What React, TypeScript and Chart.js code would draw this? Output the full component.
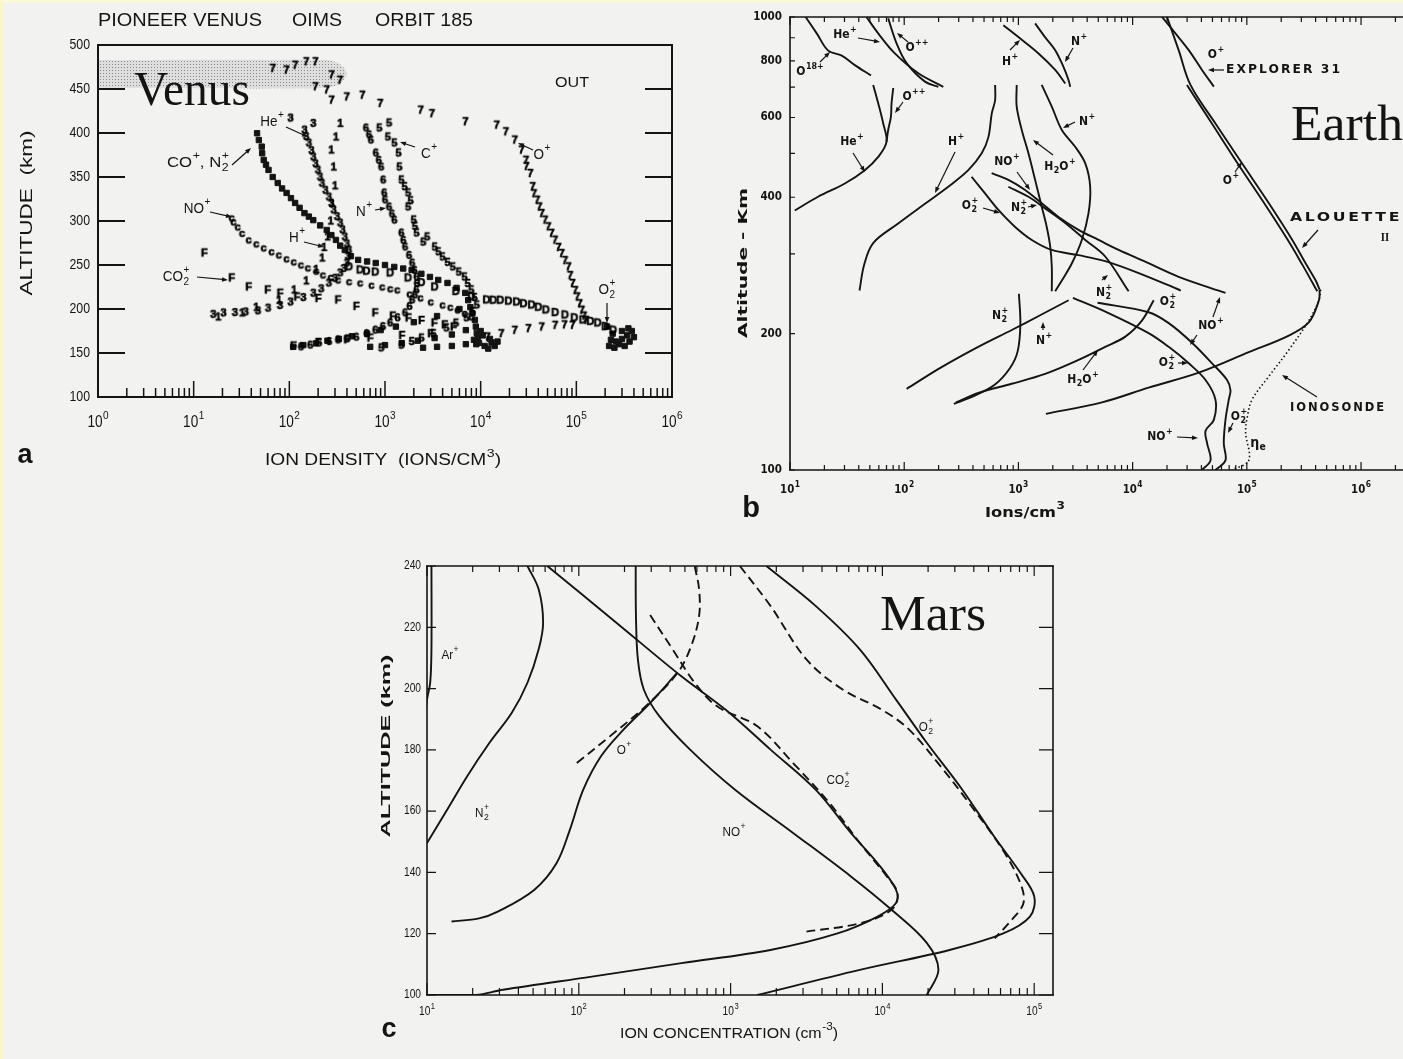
import React, { useEffect, useRef } from 'react';
import { Chart, registerables } from 'chart.js';

Chart.register(...registerables);

type Pt = [number, number];

const INK = '#141414';
const SANS = '"Liberation Sans", Arial, sans-serif';
const BSANS = '"DejaVu Sans", "Liberation Sans", sans-serif';
const SERIF = '"Liberation Serif", "Times New Roman", serif';

// ================= Panel a : Venus =================
const venusXTicks = [1, 10, 100, 1000, 10000, 100000, 1000000];
const venusXTickLabels = ['10^0', '10^1', '10^2', '10^3', '10^4', '10^5', '10^6'];
const venusYTicks = [100, 150, 200, 250, 300, 350, 400, 450, 500];
const venusYTickLabels = ['100', '150', '200', '250', '300', '350', '400', '450', '500'];

const venusShadeBand: Pt[] = [[1, 483], [240, 483], [320, 480], [385, 472], [395, 465], [330, 455], [240, 451], [1, 451]];

const venusOPlus: Pt[] = [
  [67, 473.5], [93, 471.6], [115, 477], [150, 481], [187, 481], [276, 466], [338, 460], [187, 452.6], [245, 449],
  [276, 437.4], [398, 441], [579, 443], [890, 433.6], [2360, 426], [3090, 422], [6920, 412.8], [14700, 409],
  [18300, 401.4], [22700, 392], [26700, 380.6], [29700, 369], [30000, 362], [33000, 354], [34900, 339], [36000, 331],
  [38900, 323.7], [41000, 316], [43400, 308.5], [47000, 301], [50800, 293.4], [55000, 286], [59700, 278.2],
  [65000, 270], [70100, 263], [76000, 255], [82500, 247.9], [86000, 238], [91000, 229], [97000, 221], [102000, 213.8],
  [108000, 206], [114000, 198.6], [120000, 192], [126000, 187.2], [91000, 181.5], [75000, 182], [60000, 181.5],
  [43400, 179.6], [31500, 177.7], [22700, 175.8], [16400, 172], [11800, 168.2],
];
const venusCPlus: Pt[] = [
  [1100, 411.4], [870, 405.7], [1070, 395.5], [1250, 388.7], [1380, 377.3], [1410, 361.4], [1480, 346.6], [1600, 339],
  [1740, 331.9], [1850, 323], [1740, 316], [1990, 301.2], [2050, 294], [2130, 286.4], [2500, 276], [2750, 281.9],
  [3300, 270.5], [3600, 265], [3980, 259.2], [4500, 253], [5100, 247.8], [5900, 242], [6760, 236.4], [7300, 229],
  [7950, 221.7], [8600, 213], [9100, 204.6], [8200, 197], [7080, 190], [5500, 184], [4370, 178.5], [3200, 172],
  [2400, 167], [1900, 163], [1480, 159], [910, 155.8],
];
const venusNPlus: Pt[] = [
  [632, 405.7], [680, 398], [710, 392], [800, 377.3], [860, 369], [910, 361.4], [955, 346.6], [980, 331.9], [1000, 324],
  [1100, 316], [1180, 308], [1250, 301], [1480, 286.4], [1550, 278], [1620, 270.5], [1780, 261], [1920, 252.3],
  [2030, 244], [2130, 236.4], [2150, 229], [2130, 221.7], [2050, 216], [1920, 210.3], [1800, 203], [1620, 195.6],
  [1350, 190], [1130, 184.2], [950, 180], [790, 176], [640, 172], [500, 168], [400, 166], [322, 164.9], [260, 163],
  [204, 161.5], [165, 159], [132, 157],
];
const venusHePlus: Pt[] = [
  [103, 417], [178, 411], [144, 403.4], [150, 396], [160, 388.7], [170, 380], [178, 372.8], [188, 365], [199, 358],
  [209, 350], [219, 343], [238, 335], [259, 327.3], [275, 320], [290, 312.6], [315, 305], [340, 297.8], [360, 290],
  [380, 281.9], [400, 274], [420, 267], [410, 260], [400, 252.3], [370, 246], [340, 241], [300, 235], [259, 229.6],
  [215, 223], [178, 218], [140, 213], [103, 208], [80, 204], [60, 201], [47, 198], [35, 196.7], [27, 196], [20.5, 195.6],
  [16, 194],
];
const venusHPlus: Pt[] = [
  [340, 411], [307, 395.5], [274, 380.7], [290, 361.4], [300, 340], [280, 320], [270, 300], [250, 282], [230, 270],
  [220, 258], [190, 245], [150, 232], [112, 221.7], [78, 210], [45, 202], [32, 195.6], [18, 191],
];
const venusNOPlus: Pt[] = [
  [24.9, 303.5], [26, 299], [28.8, 293.2], [32, 286], [37.5, 278.5], [45, 274], [53.8, 269.4], [65, 265], [77.4, 261.4],
  [93, 257], [111, 253.5], [132, 250], [156, 246.7], [190, 243], [224, 238.7], [270, 236], [322, 233], [420, 231],
  [548, 229.6], [720, 227], [933, 225], [1130, 223], [1340, 221.7], [1800, 217], [2340, 212.6], [3000, 208],
  [3980, 204.6], [4800, 202], [5710, 199], [6800, 195], [7950, 191],
];
const venusCO2Plus: Pt[] = [
  [12.9, 263.7], [24.9, 235.3], [37.5, 225.1], [59.3, 221.7], [80, 218], [120, 213.7], [200, 212], [322, 210.3],
  [500, 203], [787, 195.6], [1200, 192], [1750, 189.9], [2400, 187], [3270, 184.2], [4200, 182], [5190, 179.6],
  [3000, 172], [1500, 170], [700, 167], [400, 165], [200, 162], [110, 158],
];
const venusO2PlusD: Pt[] = [
  [420, 248], [548, 244.4], [640, 243], [790, 242], [1130, 241], [1740, 235.3], [2400, 230], [3300, 225], [5500, 220],
  [8000, 214], [11500, 210.3], [13500, 210], [16000, 210], [19500, 209], [23700, 208], [28000, 206], [34000, 204.6],
  [40000, 202], [48000, 199], [60000, 196], [76000, 193.3], [95000, 190], [117000, 187.6], [140000, 186],
  [167000, 184.2], [200000, 180], [242000, 176],
];
const venusCOPlusBlob: Pt[] = [
  [46, 399.7], [48, 392], [51.5, 384.5], [52, 377], [54, 369.4], [57, 364], [60.6, 358], [67, 350], [75.6, 343.2],
  [84, 337], [93.6, 331.9], [104, 326], [115, 320.5], [128, 315], [144, 309], [160, 305], [178, 301], [210, 295],
  [246, 289.8], [275, 284], [307, 278.5], [340, 272], [380, 267], [440, 260], [524, 255.8], [650, 254], [800, 252.3],
  [1000, 250], [1250, 247.8], [1550, 246], [1900, 244.4], [2400, 240], [2950, 236.4], [3600, 233], [4500, 229.6],
  [5600, 224], [6900, 218.3], [7400, 210], [7800, 202], [8200, 195], [8700, 187.6], [8900, 180], [9100, 172.8],
  [9300, 167], [9600, 161.5],
];
const venusLowChainA: Pt[] = [
  [110, 157], [140, 159], [190, 161], [250, 164], [330, 166], [450, 169], [650, 172], [900, 176], [1300, 180],
  [2000, 185], [3500, 192], [6000, 200],
];
const venusLowChainB: Pt[] = [[700, 157], [1000, 159], [1500, 161], [2200, 164], [3300, 167], [5000, 171], [7000, 176]];
const venusLowChainC: Pt[] = [[2500, 156], [3500, 157], [5000, 158], [7000, 160]];
const venusPeakBlob: Pt[] = [
  [9000, 160], [11000, 158], [13000, 162], [10500, 170], [12500, 166], [14000, 158], [10000, 175], [8500, 165],
  [12000, 155], [15000, 163],
];
const venusO2Blob: Pt[] = [
  [220000, 158], [250000, 156], [280000, 160], [320000, 158], [360000, 163], [400000, 168], [380000, 175],
  [340000, 170], [300000, 166], [260000, 163], [230000, 165], [240000, 172], [210000, 180], [350000, 178], [300000, 175],
];

// ================= Panel b : Earth =================
const earthXTicks = [10, 100, 1000, 10000, 100000, 1000000];
const earthXTickLabels = ['10^1', '10^2', '10^3', '10^4', '10^5', '10^6'];
const earthYTicks = [100, 200, 400, 600, 800, 1000];
const earthYTickLabels = ['100', '200', '400', '600', '800', '1000'];
const earthYAllTicks = [100, 200, 300, 400, 500, 600, 700, 800, 900, 1000];

const earthO18Plus: Pt[] = [[13.7, 1000], [17.2, 919], [21.6, 843], [28.4, 822], [37.2, 782], [51.2, 743]];
const earthHePlusUpper: Pt[] = [[46.7, 1000], [59.2, 920], [82.8, 831], [133, 751], [220, 701]];
const earthOppUpper: Pt[] = [[72.4, 993], [85.7, 875], [105, 791], [152, 720], [199, 701]];
const earthHePlusLower: Pt[] = [[53.5, 708], [59.2, 645], [65.5, 582], [70, 530], [59.2, 491], [45.2, 459], [30.2, 429], [17.6, 401], [11, 374]];
const earthOppLower: Pt[] = [[80.2, 697], [77.5, 646], [76.5, 603], [72.4, 563], [70, 530]];
const earthHPlusUpper: Pt[] = [[738, 959], [1000, 903], [1500, 831], [2100, 764], [2570, 713]];
const earthNPlusUpper: Pt[] = [[1400, 968], [1710, 903], [2100, 845], [2480, 776], [2750, 725], [2840, 701]];
const earthHPlusLower: Pt[] = [[625, 708], [625, 655], [584, 612], [546, 543], [477, 500], [364, 459], [243, 422], [152, 387], [88.5, 350], [53.5, 317], [44.6, 284], [40.6, 249]];
const earthH2OPlusUpper: Pt[] = [[966, 708], [966, 634], [1070, 563], [1224, 500], [1400, 437], [1600, 381], [1770, 344], [1900, 311], [1960, 281], [1960, 248]];
const earthNPlusMid: Pt[] = [[1600, 708], [1960, 634], [2400, 563], [3140, 517], [3850, 475], [4250, 422], [4110, 369], [3590, 322], [2940, 286], [2400, 262], [2100, 248]];
const earthNOPlusUpper: Pt[] = [[583, 452], [817, 437], [1145, 415], [1600, 388], [2244, 362], [3360, 339], [5030, 322], [7540, 306], [13000, 288], [25300, 267], [65000, 246]];
const earthN2PlusUpper: Pt[] = [[817, 422], [1224, 401], [1714, 378], [2570, 351], [3850, 322], [5750, 296], [9230, 248]];
const earthO2PlusUpper: Pt[] = [[389, 444], [510, 408], [668, 375], [936, 344], [1310, 322], [1960, 306], [3360, 298], [5750, 289], [11300, 272], [26400, 249]];
const earthN2PlusLower: Pt[] = [[1010, 245], [1040, 210], [986, 183], [845, 168], [615, 154], [391, 145], [272, 140]];
const earthNPlusLower: Pt[] = [[2750, 237], [1520, 219], [883, 204], [428, 186], [207, 168], [105, 151]];
const earthH2OPlusLower: Pt[] = [[15300, 237], [12100, 214], [8630, 197], [5750, 187], [3360, 175], [1714, 163], [873, 155], [445, 148], [284, 141]];
const earthNOPlusLower: Pt[] = [[3000, 240], [6150, 222], [13800, 200.5], [20700, 187], [31000, 172], [43500, 158], [53100, 143], [51400, 129], [43500, 122], [44900, 114.5], [48100, 105], [40500, 100]];
const earthO2PlusLower: Pt[] = [[4930, 234], [13800, 223], [20700, 211], [33100, 191], [49600, 172], [67100, 158], [71900, 150], [69500, 143], [65000, 129], [62800, 114.5], [65000, 105], [53100, 100]];
const earthOPlusModel: Pt[] = [[1740, 133], [5400, 141], [13800, 152], [37900, 164], [104000, 182], [233000, 198], [350000, 212], [428000, 237], [434000, 250]];
const earthAlouette: Pt[] = [[20000, 1000], [25300, 845], [32100, 708], [53100, 582], [91000, 475], [156000, 388], [250000, 322], [327000, 286], [401000, 262], [434000, 250]];
const earthOPlusPair: Pt[] = [[29900, 708], [49600, 581], [84000, 473], [144000, 386], [230000, 321], [306000, 284], [379000, 258], [414000, 248]];
const earthExplorerOPlus: Pt[] = [[18100, 1000], [23700, 920], [31000, 845], [40500, 764], [51400, 702]];
const earthIonosonde: Pt[] = [[443000, 250], [428000, 237], [350000, 214], [233000, 184], [156000, 161], [111000, 143], [101000, 131], [97500, 121], [104000, 105], [74000, 100]];

// ================= Panel c : Mars =================
const marsXTicks = [10, 100, 1000, 10000, 100000];
const marsXTickLabels = ['10^1', '10^2', '10^3', '10^4', '10^5'];
const marsYTicks = [100, 120, 140, 160, 180, 200, 220, 240];
const marsYTickLabels = ['100', '120', '140', '160', '180', '200', '220', '240'];

const marsArPlus: Pt[] = [[10.7, 240], [10.7, 213], [10.5, 202], [10, 196.4], [9.7, 189]];
const marsN2Plus: Pt[] = [[45.9, 240], [54.4, 232.4], [58.2, 221.5], [54.4, 212.8], [45.9, 201.9], [36.2, 192.1], [25.8, 182.3], [18.4, 171.4], [13.6, 160.5], [10, 149.6]];
const marsOPlus: Pt[] = [[14.5, 124], [22, 125], [29.5, 127.3], [50.8, 134.3], [71.3, 143], [87.3, 153.9], [107, 167], [140, 177.9], [197, 186.6], [295, 195.3], [444, 205.1]];
const marsOPlusDashed: Pt[] = [[97, 175.7], [160, 184.4], [275, 194.2], [447, 205.1], [550, 213.9], [620, 223.7], [620, 232.4], [580, 240]];
const marsNOPlus: Pt[] = [[237, 240], [238, 223.7], [245, 209.5], [268, 199.7], [339, 191], [543, 180], [1070, 167], [2580, 152.9], [6200, 138.7], [11500, 127.8], [19600, 117], [23400, 108.2], [19600, 100]];
const marsCO2Plus: Pt[] = [[62, 240], [172, 222], [474, 204], [933, 193], [1840, 180], [3630, 167], [6200, 152.9], [9300, 143], [12300, 134.3], [12300, 130], [9300, 125.6], [5000, 120], [1830, 114.7], [475, 110.4], [122, 106], [31.6, 101.7], [21, 100], [10, 100]];
const marsCO2PlusDashed: Pt[] = [[295, 224], [415, 212.8], [580, 201.9], [815, 194.2], [1500, 187.7], [2580, 175.7], [4470, 162.7], [7100, 149.6], [10700, 138.7], [12600, 133.2], [11500, 127.8], [7100, 123.4], [3160, 120.7]];
const marsO2Plus: Pt[] = [[1720, 240], [3630, 227], [7100, 212.8], [12300, 196.4], [19600, 182.3], [33600, 167], [54300, 151.8], [81300, 139.8], [100000, 132.2], [93700, 125.6], [62000, 120], [27700, 114.7], [7100, 108.2], [1500, 100]];
const marsO2PlusDashed: Pt[] = [[1150, 240], [1830, 227], [3160, 209.5], [5470, 199.7], [10000, 193], [15000, 186.6], [24200, 174.6], [38600, 161.6], [62000, 147.4], [81000, 136.5], [85000, 130], [71000, 124.5], [55000, 118.5]];

// ================= helpers =================
type TextItem = {
  t: string; x: number; y: number; s: number; fam?: string; bold?: boolean;
  align?: 'left' | 'center' | 'right'; rot?: number; w?: number; sx?: number; ls?: number;
};
type Arrow = [number, number, number, number];
type TickSet = { axis: 'x' | 'y'; side: 'top' | 'bottom' | 'left' | 'right'; values: number[]; len: number; lw?: number };
type LabelSet = { axis: 'x' | 'y'; values: number[]; labels: string[]; off: number; s: number; fam?: string; bold?: boolean; sx?: number };
type DecoCfg = {
  ox: number; oy: number; frameLw: number; sides: string[];
  ticks: TickSet[]; labels: LabelSet[]; texts: TextItem[]; arrows: Arrow[];
};

function parseRich(text: string) {
  const segs: { t: string; k: string }[] = [];
  let i = 0;
  while (i < text.length) {
    const c = text[i];
    if (c === '^' || c === '_') {
      let content = '';
      if (text[i + 1] === '{') {
        const j = text.indexOf('}', i + 2);
        content = text.slice(i + 2, j);
        i = j + 1;
      } else {
        content = text[i + 1];
        i += 2;
      }
      segs.push({ t: content, k: c === '^' ? 'sup' : 'sub' });
    } else {
      let j = i;
      while (j < text.length && text[j] !== '^' && text[j] !== '_') j++;
      segs.push({ t: text.slice(i, j), k: 'n' });
      i = j;
    }
  }
  return segs;
}

function drawRich(ctx: CanvasRenderingContext2D, it: TextItem, x: number, y: number) {
  const fam = it.fam || SANS;
  const font = (sz: number) => `${it.bold ? 'bold ' : ''}${sz}px ${fam}`;
  const segs = parseRich(it.t);
  (ctx as any).letterSpacing = (it.ls || 0) + 'px';
  let width = 0;
  const laid: any[] = [];
  for (const sg of segs) {
    if (sg.k === 'n') {
      ctx.font = font(it.s);
      const ww = ctx.measureText(sg.t).width;
      laid.push({ t: sg.t, k: 'n', dx: width, dy: 0, size: it.s });
      width += ww;
    } else {
      const ss = it.s * 0.74;
      ctx.font = font(ss);
      const ww = ctx.measureText(sg.t).width;
      const dy = sg.k === 'sup' ? -it.s * 0.46 : it.s * 0.32;
      const prev = laid[laid.length - 1];
      if (prev && prev.k !== 'n' && prev.k !== sg.k && !prev.stacked) {
        laid.push({ t: sg.t, k: sg.k, dx: prev.dx, dy, size: ss, stacked: true });
        prev.stacked = true;
        width = Math.max(width, prev.dx + ww);
      } else {
        laid.push({ t: sg.t, k: sg.k, dx: width + 0.5, dy, size: ss });
        width += ww + 0.5;
      }
    }
  }
  const sx = it.w ? it.w / width : it.sx || 1;
  ctx.save();
  ctx.translate(x, y);
  if (it.rot) ctx.rotate(it.rot);
  ctx.scale(sx, 1);
  const align = it.align || 'center';
  const start = align === 'center' ? -width / 2 : align === 'right' ? -width : 0;
  ctx.textBaseline = 'middle';
  ctx.textAlign = 'left';
  ctx.fillStyle = INK;
  for (const l of laid) {
    ctx.font = font(l.size);
    ctx.fillText(l.t, start + l.dx, l.dy);
  }
  ctx.restore();
  (ctx as any).letterSpacing = '0px';
}

function makeDeco(cfg: DecoCfg) {
  return {
    id: 'deco',
    afterDraw(chart: any) {
      const ctx: CanvasRenderingContext2D = chart.ctx;
      const a = chart.chartArea;
      const xs = chart.scales.x;
      const ys = chart.scales.y;
      ctx.save();
      ctx.strokeStyle = INK;
      ctx.fillStyle = INK;
      ctx.lineWidth = cfg.frameLw;
      ctx.beginPath();
      if (cfg.sides.includes('top')) { ctx.moveTo(a.left - 1, a.top); ctx.lineTo(a.right + 1, a.top); }
      if (cfg.sides.includes('bottom')) { ctx.moveTo(a.left - 1, a.bottom); ctx.lineTo(a.right + 1, a.bottom); }
      if (cfg.sides.includes('left')) { ctx.moveTo(a.left, a.top); ctx.lineTo(a.left, a.bottom); }
      if (cfg.sides.includes('right')) { ctx.moveTo(a.right, a.top); ctx.lineTo(a.right, a.bottom); }
      ctx.stroke();

      for (const ts of cfg.ticks) {
        ctx.lineWidth = ts.lw || 1.2;
        ctx.beginPath();
        for (const v of ts.values) {
          if (ts.axis === 'x') {
            const p = xs.getPixelForValue(v);
            if (p < a.left - 0.5 || p > a.right + 0.5) continue;
            if (ts.side === 'bottom') { ctx.moveTo(p, a.bottom); ctx.lineTo(p, a.bottom - ts.len); }
            else { ctx.moveTo(p, a.top); ctx.lineTo(p, a.top + ts.len); }
          } else {
            const p = ys.getPixelForValue(v);
            if (p < a.top - 0.5 || p > a.bottom + 0.5) continue;
            if (ts.side === 'left') { ctx.moveTo(a.left, p); ctx.lineTo(a.left + ts.len, p); }
            else { ctx.moveTo(a.right, p); ctx.lineTo(a.right - ts.len, p); }
          }
        }
        ctx.stroke();
      }

      for (const ls of cfg.labels) {
        ls.values.forEach((v, i) => {
          if (ls.axis === 'x') {
            drawRich(ctx, { t: ls.labels[i], x: 0, y: 0, s: ls.s, fam: ls.fam, bold: ls.bold, sx: ls.sx, align: 'center' },
              xs.getPixelForValue(v), a.bottom + ls.off);
          } else {
            drawRich(ctx, { t: ls.labels[i], x: 0, y: 0, s: ls.s, fam: ls.fam, bold: ls.bold, sx: ls.sx, align: 'right' },
              a.left - ls.off, ys.getPixelForValue(v));
          }
        });
      }

      for (const it of cfg.texts) drawRich(ctx, it, it.x - cfg.ox, it.y - cfg.oy);

      ctx.lineWidth = 1.2;
      for (const [x1, y1, x2, y2] of cfg.arrows) {
        const X1 = x1 - cfg.ox, Y1 = y1 - cfg.oy, X2 = x2 - cfg.ox, Y2 = y2 - cfg.oy;
        const ang = Math.atan2(Y2 - Y1, X2 - X1);
        ctx.beginPath();
        ctx.moveTo(X1, Y1);
        ctx.lineTo(X2 - 3 * Math.cos(ang), Y2 - 3 * Math.sin(ang));
        ctx.stroke();
        ctx.beginPath();
        ctx.moveTo(X2, Y2);
        ctx.lineTo(X2 - 6 * Math.cos(ang) + 2.3 * Math.sin(ang), Y2 - 6 * Math.sin(ang) - 2.3 * Math.cos(ang));
        ctx.lineTo(X2 - 6 * Math.cos(ang) - 2.3 * Math.sin(ang), Y2 - 6 * Math.sin(ang) + 2.3 * Math.cos(ang));
        ctx.closePath();
        ctx.fill();
      }
      ctx.restore();
    },
  };
}

const xy = (arr: Pt[]) => arr.map(([x, y]) => ({ x, y }));

function logMinor(lo: number, hi: number) {
  const out: number[] = [];
  for (let e = lo; e < hi; e++) for (let m = 2; m <= 9; m++) out.push(m * Math.pow(10, e));
  return out;
}

function glyph(ch: string) {
  const c = document.createElement('canvas');
  c.width = 11;
  c.height = 13;
  const g = c.getContext('2d')!;
  g.fillStyle = '#000';
  g.strokeStyle = '#000';
  g.lineWidth = 0.7;
  g.font = `bold 11px ${SANS}`;
  g.textAlign = 'center';
  g.textBaseline = 'middle';
  g.fillText(ch, 5.5, 7);
  g.strokeText(ch, 5.5, 7);
  return c;
}

function baseOptions(pad: any, x: any, y: any) {
  return {
    animation: false,
    responsive: false,
    devicePixelRatio: 1,
    events: [],
    layout: { padding: pad },
    plugins: { legend: { display: false }, tooltip: { enabled: false } },
    scales: { x: { ...x, display: false }, y: { ...y, display: false } },
  };
}

function curve(arr: Pt[], opts: any = {}) {
  return {
    data: xy(arr), showLine: true, pointRadius: 0, borderColor: INK, borderWidth: 1.9,
    tension: 0.35, fill: false, ...opts,
  };
}

// ---------------- config builders ----------------
function buildVenus(ctx: CanvasRenderingContext2D) {
  const pc = document.createElement('canvas');
  pc.width = 3; pc.height = 3;
  const pg = pc.getContext('2d')!;
  pg.fillStyle = '#dedede'; pg.fillRect(0, 0, 3, 3);
  pg.fillStyle = '#8a8a8a'; pg.fillRect(1, 1, 1, 1);
  const pattern = ctx.createPattern(pc, 'repeat');
  const chars = (arr: Pt[], ch: string) => ({ data: xy(arr), pointStyle: glyph(ch), pointRadius: 3, showLine: false });
  const blob = (arr: Pt[]) => ({ data: xy(arr), pointStyle: 'rect', pointRadius: 3.8, backgroundColor: INK, borderColor: INK, borderWidth: 1, showLine: false });
  const datasets: any[] = [
    chars(venusOPlus, '7'), chars(venusCPlus, '5'), chars(venusNPlus, '6'), chars(venusHePlus, '3'),
    chars(venusHPlus, '1'), chars(venusNOPlus, 'c'), chars(venusCO2Plus, 'F'), chars(venusO2PlusD, 'D'),
    blob(venusCOPlusBlob), blob(venusLowChainA), blob(venusLowChainB), blob(venusLowChainC),
    blob(venusPeakBlob), blob(venusO2Blob),
    { type: 'line', data: xy(venusShadeBand), fill: 'shape', backgroundColor: pattern, borderWidth: 0, pointRadius: 0, tension: 0.2 },
  ];
  const deco: DecoCfg = {
    ox: 0, oy: 0, frameLw: 2, sides: ['top', 'bottom', 'left', 'right'],
    ticks: [
      { axis: 'y', side: 'left', values: venusYTicks, len: 27, lw: 1.8 },
      { axis: 'y', side: 'right', values: venusYTicks, len: 27, lw: 1.8 },
      { axis: 'x', side: 'bottom', values: venusXTicks, len: 16, lw: 1.5 },
      { axis: 'x', side: 'bottom', values: logMinor(0, 6), len: 9, lw: 1.5 },
    ],
    labels: [
      { axis: 'x', values: venusXTicks, labels: venusXTickLabels, off: 26, s: 16, sx: 0.85 },
      { axis: 'y', values: venusYTicks, labels: venusYTickLabels, off: 8, s: 15, sx: 0.82 },
    ],
    texts: [
      { t: 'PIONEER VENUS', x: 98, y: 21, s: 19, w: 164, align: 'left' },
      { t: 'OIMS', x: 292, y: 21, s: 19, w: 50, align: 'left' },
      { t: 'ORBIT 185', x: 375, y: 21, s: 19, w: 98, align: 'left' },
      { t: 'Venus', x: 192, y: 92, s: 48, fam: SERIF, w: 116 },
      { t: 'OUT', x: 572, y: 83, s: 15, w: 34 },
      { t: 'He^+', x: 272, y: 122, s: 15, sx: 0.9 },
      { t: 'CO^+, N_2^+', x: 198, y: 163, s: 15, w: 62 },
      { t: 'NO^+', x: 197, y: 209, s: 15, sx: 0.9 },
      { t: 'H^+', x: 297, y: 238, s: 15, sx: 0.9 },
      { t: 'CO_2^+', x: 176, y: 277, s: 15, sx: 0.9 },
      { t: 'N^+', x: 364, y: 212, s: 15, sx: 0.9 },
      { t: 'C^+', x: 429, y: 154, s: 15, sx: 0.9 },
      { t: 'O^+', x: 542, y: 155, s: 15, sx: 0.9 },
      { t: 'O_2^+', x: 607, y: 290, s: 15, sx: 0.9 },
      { t: 'ALTITUDE  (km)', x: 28, y: 213, s: 16, rot: -Math.PI / 2, w: 165 },
      { t: 'ION DENSITY  (IONS/CM^3)', x: 383, y: 461, s: 16, w: 236 },
      { t: 'a', x: 25, y: 456, s: 27, bold: true },
    ],
    arrows: [
      [286, 127, 308, 137], [232, 165, 251, 148], [210, 212, 232, 217], [304, 242, 324, 247], [197, 277, 228, 280],
      [375, 210, 386, 208], [415, 147, 400, 142], [533, 150, 518, 143], [607, 303, 607, 323],
    ],
  };
  return {
    type: 'scatter',
    data: { datasets },
    options: baseOptions({ left: 98, top: 45, right: 28, bottom: 83 },
      { type: 'logarithmic', min: 1, max: 1000000 }, { type: 'linear', min: 100, max: 500 }),
    plugins: [makeDeco(deco)],
  };
}

function buildEarth() {
  const lines = [
    earthO18Plus, earthHePlusUpper, earthOppUpper, earthHePlusLower, earthOppLower, earthHPlusUpper, earthNPlusUpper,
    earthHPlusLower, earthH2OPlusUpper, earthNPlusMid, earthNOPlusUpper, earthN2PlusUpper, earthO2PlusUpper,
    earthN2PlusLower, earthNPlusLower, earthH2OPlusLower, earthNOPlusLower, earthO2PlusLower, earthOPlusModel,
    earthAlouette, earthOPlusPair, earthExplorerOPlus,
  ];
  const datasets: any[] = lines.map((l) => curve(l, { borderWidth: 1.9 }));
  datasets.push(curve(earthIonosonde, { borderWidth: 1.6, borderDash: [1.5, 2.5] }));
  const B = { fam: BSANS, bold: true, s: 12, sx: 0.9 };
  const deco: DecoCfg = {
    ox: 700, oy: 0, frameLw: 1.6, sides: ['top', 'bottom', 'left'],
    ticks: [
      { axis: 'x', side: 'bottom', values: earthXTicks, len: 8 },
      { axis: 'x', side: 'bottom', values: logMinor(1, 7), len: 5 },
      { axis: 'x', side: 'top', values: earthXTicks, len: 8 },
      { axis: 'x', side: 'top', values: logMinor(1, 7), len: 5 },
      { axis: 'y', side: 'left', values: earthYAllTicks, len: 5 },
    ],
    labels: [
      { axis: 'x', values: earthXTicks, labels: earthXTickLabels, off: 20, s: 12, fam: BSANS, bold: true, sx: 0.85 },
      { axis: 'y', values: earthYTicks, labels: earthYTickLabels, off: 8, s: 11.5, fam: BSANS, bold: true, sx: 0.9 },
    ],
    texts: [
      { t: 'He^+', x: 845, y: 35, ...B },
      { t: 'O^{++}', x: 917, y: 48, ...B },
      { t: 'O^{18+}', x: 810, y: 72, ...B },
      { t: 'O^{++}', x: 914, y: 97, ...B },
      { t: 'He^+', x: 852, y: 142, ...B },
      { t: 'H^+', x: 1010, y: 62, ...B },
      { t: 'N^+', x: 1079, y: 42, ...B },
      { t: 'H^+', x: 956, y: 142, ...B },
      { t: 'N^+', x: 1087, y: 122, ...B },
      { t: 'H_2O^+', x: 1060, y: 167, ...B },
      { t: 'NO^+', x: 1007, y: 162, ...B },
      { t: 'O_2^+', x: 970, y: 206, ...B },
      { t: 'N_2^+', x: 1019, y: 208, ...B },
      { t: 'N_2^+', x: 1104, y: 293, ...B },
      { t: 'N_2^+', x: 1000, y: 316, ...B },
      { t: 'N^+', x: 1044, y: 341, ...B },
      { t: 'O_2^+', x: 1168, y: 302, ...B },
      { t: 'NO^+', x: 1211, y: 326, ...B },
      { t: 'O_2^+', x: 1167, y: 363, ...B },
      { t: 'H_2O^+', x: 1083, y: 380, ...B },
      { t: 'NO^+', x: 1160, y: 437, ...B },
      { t: 'O_2^+', x: 1239, y: 417, ...B },
      { t: 'η_e', x: 1258, y: 443, ...B, s: 14 },
      { t: 'O^+', x: 1216, y: 55, ...B },
      { t: 'EXPLORER 31', x: 1226, y: 70, ...B, align: 'left', w: 116, ls: 2 },
      { t: 'O^+', x: 1231, y: 181, ...B },
      { t: 'ALOUETTE', x: 1290, y: 218, ...B, align: 'left', w: 112, ls: 2 },
      { t: 'II', x: 1385, y: 238, ...B, fam: SERIF },
      { t: 'IONOSONDE', x: 1290, y: 408, ...B, align: 'left', w: 96, ls: 2 },
      { t: 'Earth', x: 1347, y: 127, s: 50, fam: SERIF, w: 112 },
      { t: 'Altitude - Km', x: 744, y: 263, s: 13, fam: BSANS, bold: true, rot: -Math.PI / 2, w: 150 },
      { t: 'Ions/cm^3', x: 1025, y: 513, s: 14, fam: BSANS, bold: true, w: 80 },
      { t: 'b', x: 751, y: 509, s: 29, bold: true },
    ],
    arrows: [
      [858, 38, 880, 42], [908, 42, 897, 33], [820, 62, 830, 52], [903, 102, 895, 113], [853, 153, 865, 172],
      [1010, 50, 1020, 40], [1073, 48, 1065, 62], [955, 152, 935, 193], [1075, 122, 1063, 128], [1053, 155, 1033, 140],
      [1017, 172, 1030, 190], [983, 208, 1000, 213], [1028, 207, 1037, 205], [1102, 280, 1108, 275],
      [1043, 330, 1043, 322], [1213, 317, 1220, 297], [1197, 335, 1190, 345], [1178, 363, 1188, 363],
      [1083, 370, 1098, 350], [1177, 437, 1198, 438], [1233, 423, 1228, 433], [1224, 70, 1208, 70],
      [1235, 172, 1242, 162], [1318, 230, 1302, 248], [1317, 397, 1282, 375],
    ],
  };
  return {
    type: 'scatter',
    data: { datasets },
    options: baseOptions({ left: 90, top: 17, right: 0, bottom: 60 },
      { type: 'logarithmic', min: 10, max: 2330000 }, { type: 'logarithmic', min: 100, max: 1000 }),
    plugins: [makeDeco(deco)],
  };
}

function buildMars() {
  const dash = { borderDash: [9, 5] };
  const datasets: any[] = [
    curve(marsArPlus), curve(marsN2Plus), curve(marsOPlus), curve(marsOPlusDashed, dash), curve(marsNOPlus),
    curve(marsCO2Plus), curve(marsCO2PlusDashed, dash), curve(marsO2Plus), curve(marsO2PlusDashed, dash),
  ];
  const M = { s: 13, sx: 0.9 };
  const deco: DecoCfg = {
    ox: 370, oy: 545, frameLw: 1.6, sides: ['top', 'bottom', 'left', 'right'],
    ticks: [
      { axis: 'y', side: 'left', values: marsYTicks, len: 9 },
      { axis: 'y', side: 'right', values: marsYTicks, len: 14 },
      { axis: 'x', side: 'bottom', values: marsXTicks, len: 12 },
      { axis: 'x', side: 'bottom', values: logMinor(1, 6), len: 7 },
      { axis: 'x', side: 'top', values: marsXTicks, len: 10 },
      { axis: 'x', side: 'top', values: logMinor(1, 6), len: 6 },
    ],
    labels: [
      { axis: 'x', values: marsXTicks, labels: marsXTickLabels, off: 17, s: 12, sx: 0.85 },
      { axis: 'y', values: marsYTicks, labels: marsYTickLabels, off: 6, s: 12, sx: 0.85 },
    ],
    texts: [
      { t: 'Ar^+', x: 450, y: 655, ...M },
      { t: 'N_2^+', x: 482, y: 813, ...M },
      { t: 'O^+', x: 624, y: 750, ...M },
      { t: 'NO^+', x: 734, y: 832, ...M },
      { t: 'CO_2^+', x: 838, y: 780, ...M },
      { t: 'O_2^+', x: 926, y: 727, ...M },
      { t: 'Mars', x: 933, y: 617, s: 50, fam: SERIF, w: 106 },
      { t: 'ALTITUDE (km)', x: 386, y: 746, s: 13, bold: true, rot: -Math.PI / 2, w: 183 },
      { t: 'ION CONCENTRATION (cm^{-3})', x: 729, y: 1034, s: 14, w: 218 },
      { t: 'c', x: 389, y: 1030, s: 27, bold: true },
    ],
    arrows: [],
  };
  return {
    type: 'scatter',
    data: { datasets },
    options: baseOptions({ left: 57, top: 21, right: 17, bottom: 60 },
      { type: 'logarithmic', min: 10, max: 133000 }, { type: 'linear', min: 100, max: 240 }),
    plugins: [makeDeco(deco)],
  };
}

function Panel({ left, top, width, height, build }: any) {
  const ref = useRef<HTMLCanvasElement>(null);
  useEffect(() => {
    const canvas = ref.current!;
    const ctx = canvas.getContext('2d')!;
    const chart = new Chart(ctx, build(ctx));
    return () => chart.destroy();
  }, []);
  return (
    <canvas ref={ref} width={width} height={height}
      style={{ position: 'absolute', left, top, width, height, display: 'block' }} />
  );
}

export default function App() {
  return (
    <div style={{
      position: 'absolute', left: 0, top: 0, width: 1403, height: 1059, overflow: 'hidden',
      background: '#f2f2f0', boxSizing: 'border-box', borderLeft: '4px solid #fbf6c8', borderTop: '3px solid #fcf9d8',
    }}>
      <div style={{ position: 'absolute', left: -4, top: -3, width: 1403, height: 1059 }}>
        <Panel left={0} top={0} width={700} height={480} build={buildVenus} />
        <Panel left={700} top={0} width={703} height={530} build={buildEarth} />
        <Panel left={370} top={545} width={700} height={510} build={buildMars} />
      </div>
    </div>
  );
}
